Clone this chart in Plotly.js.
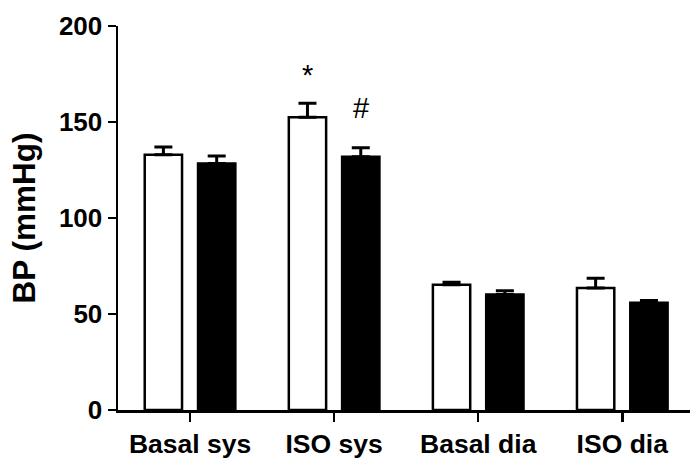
<!DOCTYPE html>
<html>
<head>
<meta charset="utf-8">
<script src="https://cdn.plot.ly/plotly-3.0.1.min.js"></script>
<style>html,body{margin:0;padding:0;background:#fff}#chart{width:694px;height:460px}</style>
</head>
<body>
<div id="chart"></div>
<script>
const categories = ['Basal sys', 'ISO sys', 'Basal dia', 'ISO dia'];
const controlValues = [133, 152.5, 65.2, 63.5];
const controlErrors = [4, 7.3, 1.3, 5.1];
const treatedValues = [128.4, 131.9, 60.1, 55.8];
const treatedErrors = [3.9, 4.7, 2.0, 1.2];
const yTicks = [0, 50, 100, 150, 200];
// significance marks: [category index, group (0 = white, 1 = black), symbol, y position]
const sigCategory = [1, 1];
const sigGroup = [0, 1];
const sigText = ['*', '#'];
const sigY = [177.5, 157.5];

const font = 'Liberation Sans, Arial, Helvetica, sans-serif';
const groupOffset = 0.185;

const traces = [
  {
    type: 'bar', x: categories, y: controlValues, name: 'Control',
    marker: {color: '#ffffff', line: {color: '#000', width: 2.5}},
    error_y: {type: 'data', array: controlErrors, arrayminus: controlErrors.map(() => 0), symmetric: false,
              color: '#000', thickness: 3, width: 9}
  },
  {
    type: 'bar', x: categories, y: treatedValues, name: 'ISO',
    marker: {color: '#000000', line: {color: '#000', width: 2.5}},
    error_y: {type: 'data', array: treatedErrors, arrayminus: treatedErrors.map(() => 0), symmetric: false,
              color: '#000', thickness: 3, width: 9}
  }
];

const annotations = sigText.map((t, i) => ({
  x: sigCategory[i] + (sigGroup[i] === 0 ? -groupOffset : groupOffset),
  y: sigY[i], xref: 'x', yref: 'y', text: t, showarrow: false,
  xanchor: 'center', yanchor: 'middle',
  font: {family: font, size: 29, color: '#000'},
  yshift: t === '*' ? -6 : 0
}));

const layout = {
  width: 694, height: 460,
  margin: {l: 118, r: 4, t: 26, b: 50, pad: 0},
  paper_bgcolor: '#fff', plot_bgcolor: '#fff',
  showlegend: false,
  barmode: 'group', bargap: 0.26, bargroupgap: 0.3,
  font: {family: font, color: '#000'},
  xaxis: {
    type: 'category', range: [-0.5, 3.47],
    showline: true, linecolor: '#000', linewidth: 2.5,
    ticks: 'outside', ticklen: 9, tickwidth: 2.5, tickcolor: '#000',
    showgrid: false, zeroline: false,
    tickfont: {family: font, size: 26.5, color: '#000', weight: 'bold'}
  },
  yaxis: {
    range: [0, 200], tickvals: yTicks, ticktext: yTicks.map(String),
    showline: true, linecolor: '#000', linewidth: 2.5,
    ticks: 'outside', ticklen: 8, tickwidth: 2.5, tickcolor: '#000',
    showgrid: false, zeroline: false,
    tickfont: {family: font, size: 26, color: '#000', weight: 'bold'},
    title: {text: 'BP (mmHg)', font: {family: font, size: 31.5, color: '#000', weight: 'bold'}, standoff: 14}
  },
  annotations: annotations
};

Plotly.newPlot('chart', traces, layout, {displayModeBar: false, staticPlot: true});
</script>
</body>
</html>
